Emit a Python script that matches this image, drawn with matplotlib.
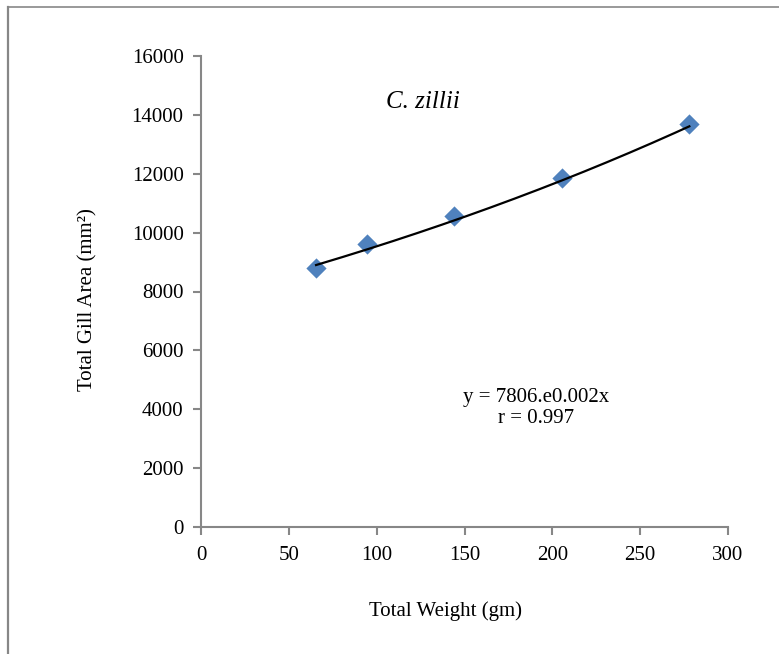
import numpy as np
import matplotlib
matplotlib.use("Agg")
import matplotlib.pyplot as plt
from matplotlib.lines import Line2D

# data
weight = [65.5, 94.7, 144.0, 205.3, 278.0]
gill_area = [8810, 9610, 10560, 11860, 13690]
# exponential trendline as printed on the chart: y = a.e^(b x)
fit_a = 7806
fit_b = 0.002
x_ticks = [0, 50, 100, 150, 200, 250, 300]
y_ticks = [0, 2000, 4000, 6000, 8000, 10000, 12000, 14000, 16000]

plt.rcParams["font.family"] = ["Liberation Serif", "DejaVu Serif"]
axis_grey = "#878787"

fig = plt.figure(figsize=(7.79, 6.54), dpi=100)
ax = fig.add_axes([201 / 779, 1 - 527 / 654, 527 / 779, 471 / 654])

ax.scatter(weight, gill_area, marker="D", s=10.3 ** 2, color="#4F81BD", linewidths=0, zorder=2)

xs = np.linspace(min(weight), max(weight), 200)
ax.plot(xs, fit_a * np.exp(fit_b * xs), color="black", lw=1.6, zorder=3)

ax.set_xlim(0, 300)
ax.set_ylim(0, 16000)
ax.set_xticks(x_ticks)
ax.set_yticks(y_ticks)

for side in ("top", "right"):
    ax.spines[side].set_visible(False)
for side in ("left", "bottom"):
    ax.spines[side].set_color(axis_grey)
    ax.spines[side].set_linewidth(1.5)
ax.tick_params(direction="out", length=5.5, width=1.5, color=axis_grey,
               labelsize=15, labelcolor="black")
ax.tick_params(axis="x", pad=8)
ax.tick_params(axis="y", pad=7)

ax.set_xlabel("Total Weight (gm)", fontsize=15)
ax.set_ylabel("Total Gill Area (mm²)", fontsize=15)
ax.xaxis.set_label_coords(0.463, -0.178)
ax.xaxis.label.set_va("center")
ax.yaxis.set_label_coords(-0.215, 0.482)
ax.yaxis.label.set_va("center")

ax.text(0.421, 0.902, "C. zillii", transform=ax.transAxes, fontsize=18,
        style="italic", ha="center", va="center")
ax.text(0.636, 0.253, "y = 7806.e0.002x\nr = 0.997", transform=ax.transAxes,
        fontsize=15, ha="center", va="center", multialignment="center", linespacing=1.1)

# outer chart border (left and top edges visible in the crop)
fig.add_artist(Line2D([8 / 779, 8 / 779], [0, 1 - 7 / 654], transform=fig.transFigure,
                      color=axis_grey, lw=1.6))
fig.add_artist(Line2D([8 / 779, 1], [1 - 7 / 654, 1 - 7 / 654], transform=fig.transFigure,
                      color=axis_grey, lw=1.2))

fig.savefig("out.png", dpi=100)
